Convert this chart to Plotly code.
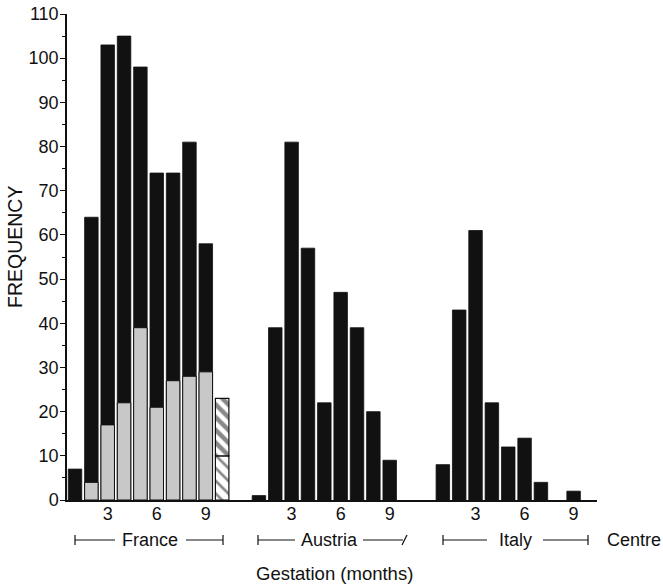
import plotly.graph_objects as go

# Gestation month of each bar within a centre group
months = [1, 2, 3, 4, 5, 6, 7, 8, 9]

# Frequencies per centre
france_total = [7, 64, 103, 105, 98, 74, 74, 81, 58]
france_grey = [0, 4, 17, 22, 39, 21, 27, 28, 29]
france_unknown_lower = 10   # hatched bar at month 10, lower part
france_unknown_upper = 13   # hatched bar at month 10, upper part
austria = [1, 39, 81, 57, 22, 47, 39, 20, 9]
italy = [8, 43, 61, 22, 12, 14, 4, 0, 2]

centres = ["France", "Austria", "Italy"]
tick_months = [3, 6, 9]
tick_text = ["3", "6", "9"]
y_ticks = list(range(0, 111, 10))

# Horizontal offset of each centre group along the shared x axis
offsets = {"France": 0.0, "Austria": 11.25, "Italy": 22.5}

W, H = 663, 585
L, R, T, B = 67, 66, 14, 85
PW, PH = W - L - R, H - T - B
XR = [0.51, 32.93]
YR = [0, 110]

FONT = "Liberation Sans, Arial, Helvetica, sans-serif"
INK = "#111111"
BAR_W = 0.826
FS = 18


def px_x(px):
    return (px - L) / PW


def px_y(py):
    return (H - B - py) / PH


def shift(vals, centre):
    return [v + offsets[centre] for v in vals]


fig = go.Figure()

bar_line = dict(color=INK, width=0.8)

# Black total bars for every centre
for centre, vals in [("France", france_total), ("Austria", austria), ("Italy", italy)]:
    xs = [x for x, v in zip(shift(months, centre), vals) if v > 0]
    ys = [v for v in vals if v > 0]
    fig.add_trace(go.Bar(x=xs, y=ys, width=BAR_W, marker=dict(color=INK, line=bar_line),
                         showlegend=False, hoverinfo="skip"))

# Grey sub-counts drawn over the French bars
gx = [m for m, g in zip(months, france_grey) if g > 0]
gy = [g for g in france_grey if g > 0]
fig.add_trace(go.Bar(x=gx, y=gy, width=BAR_W,
                     marker=dict(color="#c8c8c8", line=dict(color=INK, width=1)),
                     showlegend=False, hoverinfo="skip"))

# Hatched bar (month 10, France)
fig.add_trace(go.Bar(x=[10], y=[france_unknown_lower], base=[0], width=BAR_W,
                     marker=dict(color="white", line=dict(color=INK, width=1.2),
                                 pattern=dict(shape="\\", fgcolor=INK, bgcolor="white",
                                              size=9, solidity=0.3)),
                     showlegend=False, hoverinfo="skip"))
fig.add_trace(go.Bar(x=[10], y=[france_unknown_upper], base=[france_unknown_lower], width=BAR_W,
                     marker=dict(color="white", line=dict(color=INK, width=1.2),
                                 pattern=dict(shape="\\", fgcolor=INK, bgcolor="white",
                                              size=9, solidity=0.5)),
                     showlegend=False, hoverinfo="skip"))

tickvals, ticktext = [], []
for c in centres:
    tickvals += shift(tick_months, c)
    ticktext += tick_text

fig.update_layout(
    width=W, height=H,
    margin=dict(l=L, r=R, t=T, b=B, pad=0, autoexpand=False),
    paper_bgcolor="white", plot_bgcolor="white",
    barmode="overlay",
    font=dict(family=FONT, size=FS, color=INK),
    xaxis=dict(range=XR, tickvals=tickvals, ticktext=ticktext, showgrid=False,
               zeroline=False, showline=True, linecolor=INK, linewidth=1.5,
               automargin=False,
               ticks="", ticklabelstandoff=-3, tickfont=dict(size=FS, family=FONT, color=INK)),
    yaxis=dict(range=YR, tickvals=y_ticks, showgrid=False, zeroline=False,
               showline=True, linecolor=INK, linewidth=1.5, automargin=False,
               ticks="outside", ticklen=5, tickwidth=1.2, tickcolor=INK,
               minor=dict(ticks="outside", ticklen=3, tickwidth=1, tickcolor=INK, dtick=5),
               ticklabelstandoff=-2, tickfont=dict(size=FS, family=FONT, color=INK)),
)

shapes = []
line_style = dict(color=INK, width=1.2)
ybr = px_y(540)
tick_h = 5 / PH


def hseg(x0, x1):
    shapes.append(dict(type="line", xref="paper", yref="paper", x0=px_x(x0), x1=px_x(x1),
                       y0=ybr, y1=ybr, line=line_style))


def vtick(x):
    shapes.append(dict(type="line", xref="paper", yref="paper", x0=px_x(x), x1=px_x(x),
                       y0=ybr - tick_h, y1=ybr + tick_h, line=line_style))


# France bracket
vtick(75); hseg(75, 115); hseg(186, 223); vtick(223)
# Austria bracket (right end drawn as a slash)
vtick(258); hseg(258, 295); hseg(363, 403)
shapes.append(dict(type="line", xref="paper", yref="paper", x0=px_x(402), x1=px_x(407),
                   y0=ybr - tick_h, y1=ybr + tick_h, line=line_style))
# Italy bracket
vtick(443); hseg(443, 487); hseg(543, 588); vtick(588)
fig.update_layout(shapes=shapes)

labels = [("France", 150), ("Austria", 329), ("Italy", 515), ("Centre", 634)]
annotations = []
for text, cx in labels:
    annotations.append(dict(text=text, xref="paper", yref="paper", x=px_x(cx), y=ybr,
                            showarrow=False, xanchor="center", yanchor="middle",
                            font=dict(size=FS, family=FONT, color=INK)))
annotations.append(dict(text="Gestation (months)", xref="paper", yref="paper",
                        x=px_x(334), y=px_y(573), showarrow=False,
                        xanchor="center", yanchor="middle",
                        font=dict(size=18.5, family=FONT, color=INK)))
annotations.append(dict(text="FREQUENCY", xref="paper", yref="paper",
                        x=px_x(15), y=px_y(247), showarrow=False, textangle=-90,
                        xanchor="center", yanchor="middle",
                        font=dict(size=19.5, family=FONT, color=INK)))
fig.update_layout(annotations=annotations)

fig.write_html("out.html")
